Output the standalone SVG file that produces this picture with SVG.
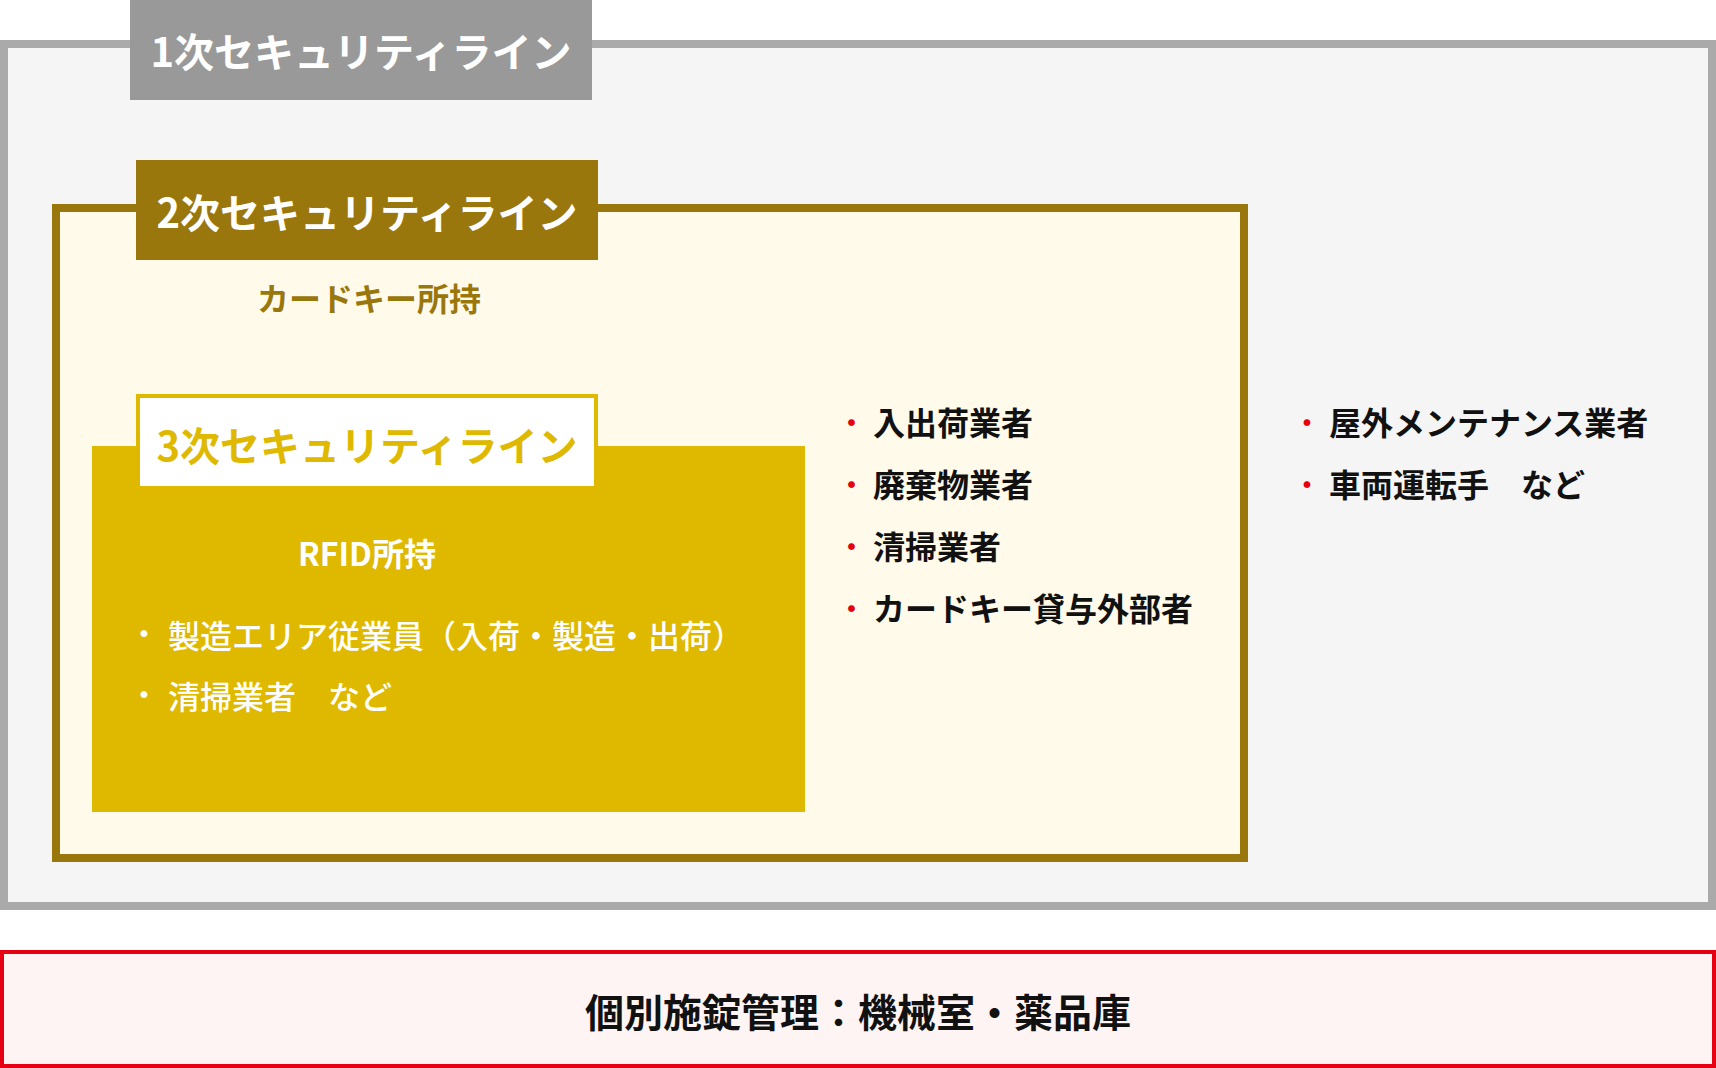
<svg xmlns="http://www.w3.org/2000/svg" width="1716" height="1068" viewBox="0 0 1716 1068">
<style>
text{font-family:"Noto Sans CJK JP","Noto Sans CJK SC",sans-serif}
.title{font-size:40px;font-weight:700;text-anchor:middle}
.sub{font-size:32px;font-weight:700;text-anchor:middle}
.item{font-size:32px;font-weight:700;fill:#111}
.witem{font-size:32px;font-weight:500;fill:#fff}
.rdot{font-size:32px;fill:#e60012;text-anchor:middle}
.wdot{font-size:32px;fill:#fff;text-anchor:middle}
</style>
<rect width="1716" height="1068" fill="#fff"/>

<g id="line1">
<rect x="4" y="44" width="1708" height="862" fill="#f5f5f5" stroke="#aaaaaa" stroke-width="8"/>
<rect x="130" y="0" width="462" height="100" fill="#999999"/>
<text class="title" x="361" y="67" fill="#fff">1次セキュリティライン</text>
<text class="rdot" x="1307" y="435">・</text>
<text class="item" x="1329" y="435">屋外メンテナンス業者</text>
<text class="rdot" x="1307" y="497">・</text>
<text class="item" x="1329" y="497">車両運転手　など</text>
</g>

<g id="line2">
<rect x="56" y="208" width="1188" height="650" fill="#fffae9" stroke="#9a770c" stroke-width="8"/>
<rect x="136" y="160" width="462" height="100" fill="#9a770c"/>
<text class="title" x="367" y="228" fill="#fff">2次セキュリティライン</text>
<text class="sub" x="369" y="311" fill="#9a770c">カードキー所持</text>
<text class="rdot" x="851.5" y="435">・</text>
<text class="item" x="873" y="435">入出荷業者</text>
<text class="rdot" x="851.5" y="497">・</text>
<text class="item" x="873" y="497">廃棄物業者</text>
<text class="rdot" x="851.5" y="559">・</text>
<text class="item" x="873" y="559">清掃業者</text>
<text class="rdot" x="851.5" y="621">・</text>
<text class="item" x="873" y="621">カードキー貸与外部者</text>
</g>

<g id="line3">
<rect x="92" y="446" width="713" height="366" fill="#dfb900"/>
<rect x="138" y="396" width="458" height="92" fill="#fff" stroke="#dfb900" stroke-width="4"/>
<text class="title" x="367" y="461" fill="#dfb900">3次セキュリティライン</text>
<text class="sub" x="367" y="566" fill="#fff">RFID所持</text>
<text class="wdot" x="144" y="646">・</text>
<text class="witem" x="168" y="648">製造エリア従業員（入荷・製造・出荷）</text>
<text class="wdot" x="144" y="707">・</text>
<text class="witem" x="168" y="709">清掃業者　など</text>
</g>

<g id="individual-lock">
<rect x="2" y="952" width="1712" height="114" fill="#fff4f4" stroke="#e60012" stroke-width="4"/>
<text x="858" y="1027" font-size="39" font-weight="700" fill="#111" text-anchor="middle">個別施錠管理：機械室・薬品庫</text>
</g>
</svg>
